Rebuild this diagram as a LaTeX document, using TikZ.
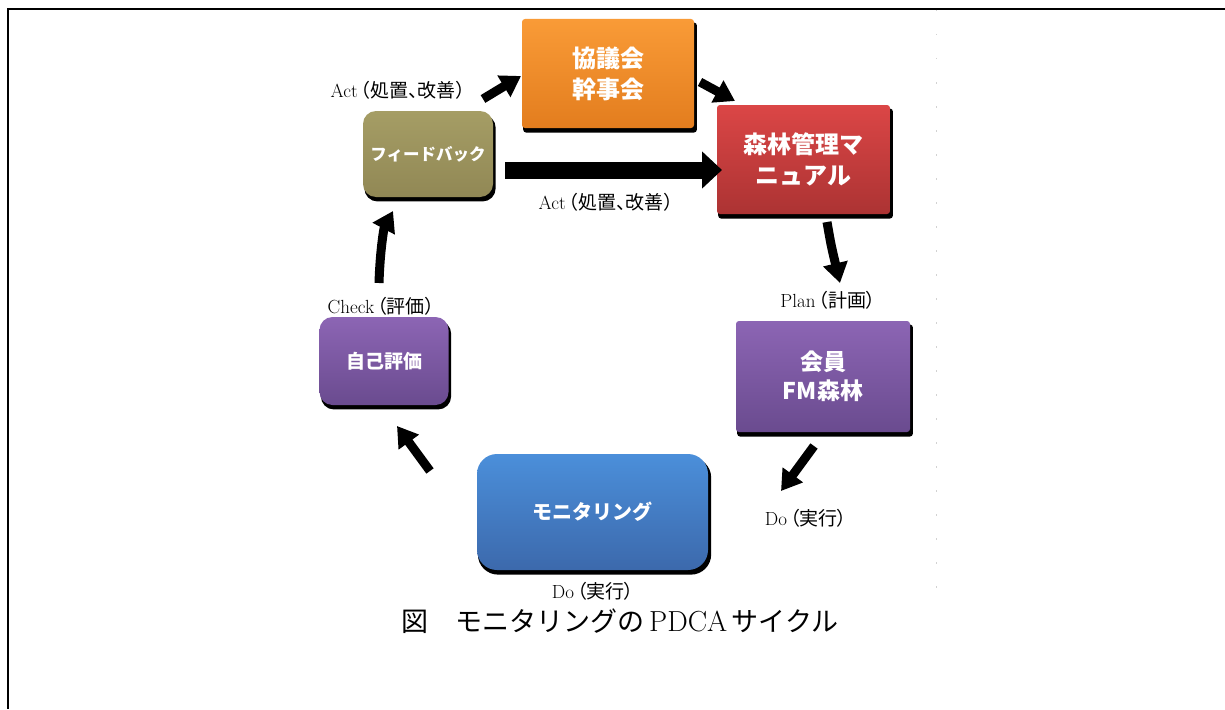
\documentclass[tikz,border=0pt]{standalone}
\usepackage{fontspec}
\newfontfamily\cjk{Noto Sans CJK JP}
\newfontfamily\cjkp{Noto Sans CJK JP}[RawFeature=+palt]
\usetikzlibrary{arrows.meta,shadows}
\definecolor{orgT}{HTML}{F99B37}
\definecolor{orgB}{HTML}{E37D1E}
\definecolor{redT}{HTML}{DB4646}
\definecolor{redB}{HTML}{AC3333}
\definecolor{purT}{HTML}{8C65B4}
\definecolor{purB}{HTML}{6A4B8F}
\definecolor{oliT}{HTML}{A59D65}
\definecolor{oliB}{HTML}{918855}
\definecolor{bluT}{HTML}{4B8FDA}
\definecolor{bluB}{HTML}{3C69AC}
\newcommand{\jlab}[2]{#1\hspace{3pt}{\cjkp #2}}
\tikzset{
  box/.style={inner sep=0pt, text=white, align=center,
    font=\cjk\bfseries\fontsize{24}{31}\selectfont,
    general shadow={fill=black, shadow xshift=2pt, shadow yshift=-4pt, shadow scale=1.01}},
  rbox/.style={box, rectangle, rounded corners=3pt},
  obox/.style={box, rectangle, rounded corners=13pt},
  lab/.style={inner sep=0pt, font=\fontsize{19}{21}\selectfont},
  blk/.style={line width=9pt, -{Triangle[length=20pt,width=24pt]}},
  frame/.style={line width=2.8pt}
}
\begin{document}
\begin{tikzpicture}[x=1pt,y=-1pt]
\useasboundingbox (0,0) rectangle (1225,709);
% frame
\coordinate (fTL) at (8,9);
\coordinate (fTR) at (1225,9);
\coordinate (fBL) at (8,709);
\draw[frame] (fTR) -- (fTL) -- (fBL);
\coordinate (dT) at (936,10);
\coordinate (dB) at (936,600);
\draw[gray!35, line width=0.8pt, dash pattern=on 1.5pt off 22.5pt] (dT) -- (dB);

% boxes
\node[rbox, top color=orgT, bottom color=orgB, minimum width=172pt, minimum height=109pt] (kyo) at (608,73.5) {協議会\\幹事会};
\node[rbox, top color=redT, bottom color=redB, minimum width=173pt, minimum height=109pt] (man) at (803.5,159.5) {森林管理マ\\ニュアル};
\node[rbox, top color=purT, bottom color=purB, minimum width=174pt, minimum height=111pt, font=\cjk\bfseries\fontsize{23}{29}\selectfont] (kai) at (823,376.5) {会員\\FM森林};
\node[obox, top color=oliT, bottom color=oliB, minimum width=130pt, minimum height=86pt, font=\cjk\bfseries\fontsize{16.5}{20}\selectfont] (fb) at (428,154) {フィードバック};
\node[obox, top color=purT, bottom color=purB, minimum width=129pt, minimum height=88pt, font=\cjk\bfseries\fontsize{19}{21}\selectfont] (jik) at (384,361) {自己評価};
\node[obox, rounded corners=20pt, top color=bluT, bottom color=bluB, minimum width=231pt, minimum height=116pt, font=\cjk\bfseries\fontsize{20}{22}\selectfont] (mon) at (592.5,512) {モニタリング};

% labels
\node[lab] (actA) at (398,90) {\jlab{Act}{（処置、改善）}};
\node[lab] (actB) at (606,202) {\jlab{Act}{（処置、改善）}};
\node[lab] (plan) at (828,300) {\jlab{Plan}{（計画）}};
\node[lab] (chk) at (381,306) {\jlab{Check}{（評価）}};
\node[lab] (doA) at (806,518) {\jlab{Do}{（実行）}};
\node[lab] (doB) at (593,591) {\jlab{Do}{（実行）}};
\node[inner sep=0pt, font=\cjk\fontsize{27}{29}\selectfont] (cap) at (620,621) {図　モニタリングの\,{\rmfamily\fontsize{29}{29}\selectfont PDCA}\,サイクル};

% arrows
\coordinate (a1s) at (483,99);  \coordinate (a1e) at (521,76);
\coordinate (a2s) at (700,82);  \coordinate (a2e) at (735,101);
\coordinate (a3s) at (505,170); \coordinate (a3e) at (722,170);
\coordinate (a4s) at (827,222); \coordinate (a4e) at (840,283);
\coordinate (a5s) at (814,446); \coordinate (a5e) at (781,491);
\coordinate (a6s) at (430,471); \coordinate (a6e) at (397,426);
\coordinate (a7s) at (379,283); \coordinate (a7e) at (393,211);
\draw[blk] (a1s) -- (a1e);
\draw[blk] (a2s) -- (a2e);
\draw[line width=17pt, -{Triangle[length=20pt,width=36pt]}] (a3s) -- (a3e);
\draw[blk] (a4s) .. controls (831,245) .. (a4e);
\draw[blk] (a5s) -- (a5e);
\draw[blk] (a6s) -- (a6e);
\draw[blk] (a7s) .. controls (380,250) and (384,228) .. (a7e);
\end{tikzpicture}
\end{document}
